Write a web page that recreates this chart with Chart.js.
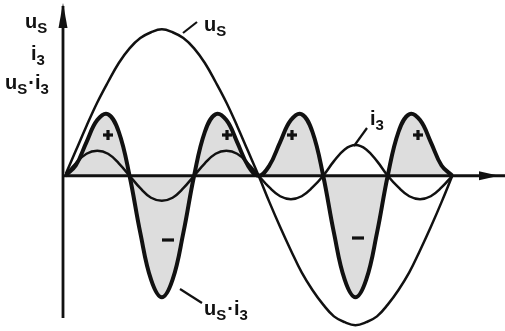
<!DOCTYPE html>
<html>
<head>
<meta charset="utf-8">
<script src="https://cdn.jsdelivr.net/npm/chart.js@4/dist/chart.umd.min.js"></script>
<style>
  html, body { margin: 0; padding: 0; background: #fff; }
  canvas { display: block; }
</style>
</head>
<body>
<canvas id="chart" width="505" height="331"></canvas>
<script>
// phase angle in degrees, one period of the supply voltage
const angles = [0, 10, 20, 30, 40, 50, 60, 70, 80, 90, 100, 110, 120, 130, 140, 150, 160, 170, 180,
  190, 200, 210, 220, 230, 240, 250, 260, 270, 280, 290, 300, 310, 320, 330, 340, 350, 360];

// supply voltage u_S
const uS = [0, 0.17, 0.34, 0.5, 0.64, 0.77, 0.87, 0.94, 0.98, 1.0, 0.98, 0.94, 0.87, 0.77, 0.64, 0.5, 0.34, 0.17, 0,
  -0.18, -0.35, -0.51, -0.66, -0.78, -0.88, -0.96, -1.0, -1.02, -1.0, -0.96, -0.88, -0.78, -0.66, -0.51, -0.35, -0.18, 0];

// third harmonic current i_3
const i3 = [0, 0.085, 0.15, 0.17, 0.15, 0.085, 0, -0.085, -0.15, -0.17, -0.15, -0.085, 0, 0.085, 0.15, 0.17, 0.15, 0.085, 0,
  -0.08, -0.14, -0.16, -0.14, -0.08, 0, 0.1, 0.18, 0.21, 0.18, 0.1, 0, -0.08, -0.14, -0.16, -0.14, -0.08, 0];

// instantaneous power u_S * i_3
const uSi3 = [0, 0.07, 0.23, 0.38, 0.42, 0.3, 0, -0.39, -0.71, -0.83, -0.71, -0.39, 0, 0.3, 0.42, 0.38, 0.23, 0.07, 0,
  0.07, 0.23, 0.38, 0.42, 0.3, 0, -0.39, -0.71, -0.83, -0.71, -0.39, 0, 0.3, 0.42, 0.38, 0.23, 0.07, 0];

const pts = arr => angles.map((a, k) => ({ x: a, y: arr[k] }));

const INK = '#111';

// draws one label made of [main, subscript] pieces
function label(ctx, parts, x, y) {
  let cx = x;
  parts.forEach(p => {
    ctx.font = 'bold 20px "Liberation Sans", Arial, sans-serif';
    ctx.fillText(p[0], cx, y);
    cx += ctx.measureText(p[0]).width;
    if (p[1]) {
      ctx.font = 'bold 15px "Liberation Sans", Arial, sans-serif';
      ctx.fillText(p[1], cx, y + 5);
      cx += ctx.measureText(p[1]).width + 1;
    }
  });
}

function line(ctx, x1, y1, x2, y2, w) {
  ctx.lineWidth = w;
  ctx.beginPath();
  ctx.moveTo(x1, y1);
  ctx.lineTo(x2, y2);
  ctx.stroke();
}

const axesPlugin = {
  id: 'axesPlugin',
  afterDatasetsDraw(chart) {
    const { ctx, scales: { x, y } } = chart;
    const x0 = x.getPixelForValue(0) - 2;
    const y0 = y.getPixelForValue(0);
    ctx.save();
    ctx.strokeStyle = INK;
    ctx.fillStyle = INK;
    ctx.lineCap = 'butt';
    // time axis with arrow
    line(ctx, x0, y0, 505, y0, 2.8);
    ctx.beginPath();
    ctx.moveTo(499, y0);
    ctx.lineTo(479, y0 - 4.5);
    ctx.lineTo(479, y0 + 4.5);
    ctx.closePath();
    ctx.fill();
    // value axis with arrow
    line(ctx, x0, 318, x0, 6, 2.8);
    ctx.beginPath();
    ctx.moveTo(x0, 3);
    ctx.lineTo(x0 - 4.5, 28);
    ctx.lineTo(x0 + 4.5, 28);
    ctx.closePath();
    ctx.fill();
    ctx.restore();
  },
  afterDraw(chart) {
    const { ctx } = chart;
    ctx.save();
    ctx.fillStyle = INK;
    ctx.strokeStyle = INK;
    ctx.textBaseline = 'alphabetic';

    // axis captions
    label(ctx, [['u', 'S']], 25, 28);
    label(ctx, [['i', '3']], 31, 60);
    label(ctx, [['u', 'S'], ['·'], ['i', '3']], 5, 89);

    // curve captions and leader lines
    label(ctx, [['u', 'S']], 204, 31);
    line(ctx, 183, 33, 197, 22, 2.2);
    label(ctx, [['i', '3']], 370, 125);
    line(ctx, 354, 146, 367, 128, 2.2);
    label(ctx, [['u', 'S'], ['·'], ['i', '3']], 204, 315);
    line(ctx, 180, 289, 202, 303, 2.2);

    // signs of the power areas
    [[108, 135], [227, 135], [292, 135], [418, 135]].forEach(([px, py]) => {
      line(ctx, px - 5, py, px + 5, py, 3.2);
      line(ctx, px, py - 5, px, py + 5, 3.2);
    });
    [[168, 240], [358, 238]].forEach(([px, py]) => {
      line(ctx, px - 6, py, px + 6, py, 3.2);
    });
    ctx.restore();
  }
};

new Chart(document.getElementById('chart'), {
  type: 'line',
  data: {
    datasets: [
      {
        label: 'uS*i3',
        data: pts(uSi3),
        borderColor: INK,
        borderWidth: 4,
        backgroundColor: '#dddddd',
        fill: 'origin'
      },
      {
        label: 'i3',
        data: pts(i3),
        borderColor: INK,
        borderWidth: 2.5,
        fill: false
      },
      {
        label: 'uS',
        data: pts(uS),
        borderColor: INK,
        borderWidth: 2.5,
        fill: false
      }
    ]
  },
  options: {
    responsive: false,
    animation: false,
    layout: { padding: { left: 65, right: 0, top: 0, bottom: 0 } },
    elements: {
      point: { radius: 0 },
      line: { tension: 0.4, capBezierPoints: false }
    },
    scales: {
      x: { type: 'linear', min: 0, max: 409, display: false },
      y: { min: -1.06, max: 1.2, display: false }
    },
    plugins: {
      legend: { display: false },
      tooltip: { enabled: false },
      filler: { drawTime: 'beforeDatasetsDraw' }
    }
  },
  plugins: [axesPlugin]
});
</script>
</body>
</html>
